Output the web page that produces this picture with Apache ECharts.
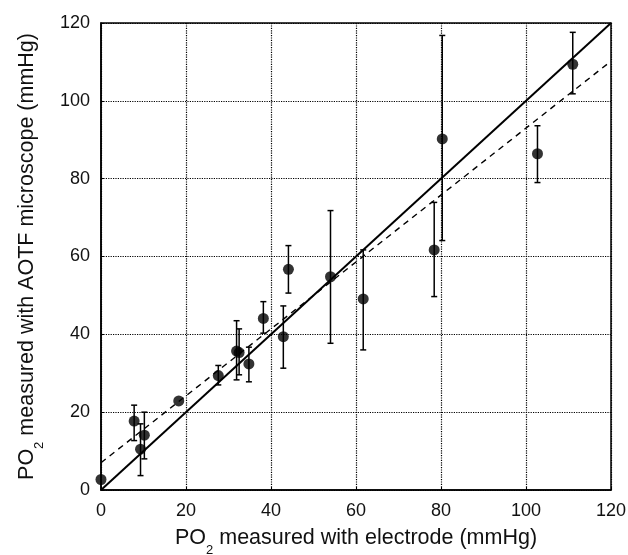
<!DOCTYPE html>
<html>
<head>
<meta charset="utf-8">
<script src="https://cdn.jsdelivr.net/npm/echarts@6/dist/echarts.min.js"></script>
<style>html,body{margin:0;padding:0;background:#fff;}#c{width:628px;height:555px;}</style>
</head>
<body>
<div id="c"></div>
<script>
var xValues = [0, 7.8, 9.3, 10.2, 18.3, 27.6, 31.9, 32.5, 34.8, 38.2, 42.9, 44.1, 54.0, 61.7, 78.4, 80.3, 102.7, 111.0];
var yValues = [2.7, 17.7, 10.5, 14.1, 22.9, 29.4, 35.7, 35.3, 32.4, 44.1, 39.4, 56.7, 54.8, 49.1, 61.7, 90.2, 86.4, 109.4];
var errLow  = [null, 12.7, 3.7, 8.0, null, 27.0, 28.3, 29.6, 27.8, 40.3, 31.3, 50.6, 37.7, 36.0, 49.7, 64.1, 79.0, 101.8];
var errHigh = [null, 21.8, 17.0, 20.0, null, 32.0, 43.5, 41.4, 36.7, 48.4, 47.3, 62.8, 71.8, 61.7, 73.9, 116.8, 93.6, 117.6];
var identityLine = [[0, 0], [120, 120]];
var fitLine = [[0, 7.0], [120, 110.2]];
var axisTicks = [0, 20, 40, 60, 80, 100, 120];

var points = xValues.map(function (x, i) { return [x, yValues[i]]; });
var errData = [];
xValues.forEach(function (x, i) {
  if (errLow[i] != null) errData.push([x, errLow[i], errHigh[i]]);
});

var chart = echarts.init(document.getElementById('c'));
var font = 'Liberation Sans, Arial, Helvetica, sans-serif';
var rich = { sub: { fontSize: 13, verticalAlign: 'bottom', padding: [0, 0, -8, 0], fontFamily: font, color: '#111' } };

chart.setOption({
  animation: false,
  backgroundColor: '#fff',
  grid: { left: 101, right: 17, top: 23, bottom: 65, containLabel: false, outerBoundsMode: 'none', show: true, borderColor: '#000', borderWidth: 1.5, backgroundColor: 'transparent' },
  xAxis: {
    type: 'value', min: axisTicks[0], max: axisTicks[axisTicks.length - 1], interval: 20,
    name: 'PO{sub|2} measured with electrode (mmHg)', nameLocation: 'middle', nameGap: 37,
    nameTextStyle: { fontSize: 21.5, fontFamily: font, color: '#111', rich: rich },
    axisLine: { show: true, lineStyle: { color: '#000', width: 1.5 } },
    axisTick: { show: true, inside: true, length: 3, lineStyle: { color: '#000' } },
    axisLabel: { fontSize: 18, fontFamily: font, color: '#111', margin: 12 },
    splitLine: { show: true, lineStyle: { type: 'dotted', color: '#000', width: 1.2 } }
  },
  yAxis: {
    type: 'value', min: axisTicks[0], max: axisTicks[axisTicks.length - 1], interval: 20,
    name: 'PO{sub|2} measured with AOTF microscope (mmHg)', nameLocation: 'middle', nameGap: 63, nameRotate: 90,
    nameTextStyle: { fontSize: 21.5, fontFamily: font, color: '#111', rich: rich },
    axisLine: { show: true, lineStyle: { color: '#000', width: 1.5 } },
    axisTick: { show: true, inside: true, length: 3, lineStyle: { color: '#000' } },
    axisLabel: { fontSize: 18, fontFamily: font, color: '#111', margin: 11 },
    splitLine: { show: true, lineStyle: { type: 'dotted', color: '#000', width: 1.2 } }
  },
  series: [
    {
      type: 'line', data: identityLine, symbol: 'none', z: 3,
      lineStyle: { color: '#000', width: 2 }
    },
    {
      type: 'line', data: fitLine, symbol: 'none', z: 3,
      lineStyle: { color: '#000', width: 1.4, type: [6, 5] }
    },
    {
      type: 'custom', data: errData, z: 4,
      renderItem: function (params, api) {
        var x = api.value(0);
        var lo = api.coord([x, api.value(1)]);
        var hi = api.coord([x, api.value(2)]);
        var w = 3;
        var st = { stroke: '#000', lineWidth: 1.5 };
        return {
          type: 'group',
          children: [
            { type: 'line', shape: { x1: lo[0], y1: lo[1], x2: hi[0], y2: hi[1] }, style: st },
            { type: 'line', shape: { x1: lo[0] - w, y1: lo[1], x2: lo[0] + w, y2: lo[1] }, style: st },
            { type: 'line', shape: { x1: hi[0] - w, y1: hi[1], x2: hi[0] + w, y2: hi[1] }, style: st }
          ]
        };
      }
    },
    {
      type: 'scatter', data: points, symbol: 'circle', symbolSize: 11, z: 5,
      itemStyle: { color: '#000' }
    }
  ]
});
</script>
</body>
</html>
